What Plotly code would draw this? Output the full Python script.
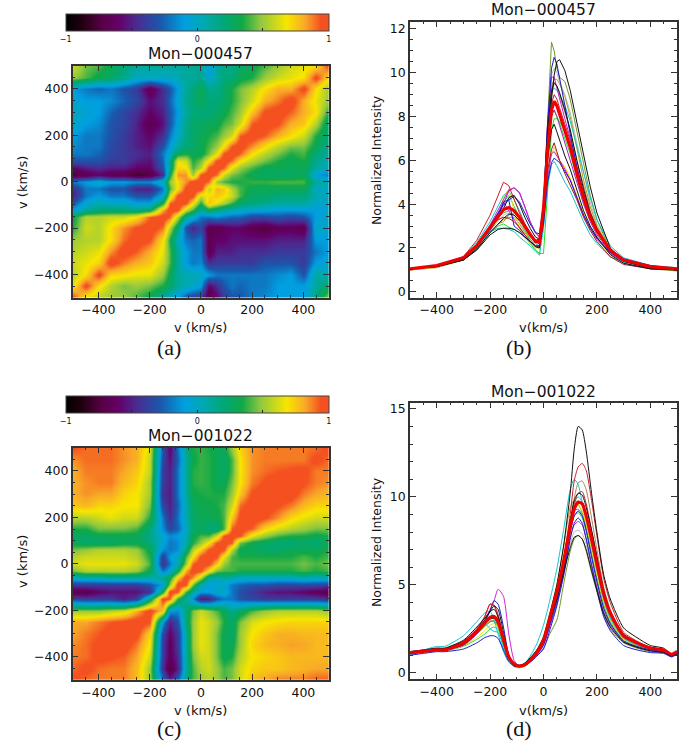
import plotly.graph_objects as go

# velocity grid of the correlation maps (km/s)
v_map = [-500, -450, -400, -350, -300, -250, -200, -150, -120, -90, -60, -30, 0,
         30, 60, 90, 120, 150, 200, 250, 300, 350, 400, 450, 500]

# correlation map Mon-000457, rows written top (v=500) to bottom (v=-500)
corr_a = [
    [.6, .45, .4, .3, .2, .1, .1, .1, .1, .1, .1, .15, .1, -.1, .1, .15, .15, .25, .3, .4, .5, .6, .65, .7, .98],
    [.5, .4, .3, .25, .15, 0, 0, 0, 0, .05, .1, .1, .15, -.05, .1, .2, .2, .3, .35, .5, .6, .65, .7, .98, .7],
    [-.1, -.2, -.25, -.2, -.3, -.4, -.7, -.45, -.3, -.1, .1, .2, .3, .15, .15, .25, .35, .45, .55, .7, .8, .8, .98, .7, .5],
    [-.05, -.1, -.1, -.15, -.25, -.35, -.55, -.45, -.25, -.05, .15, .2, .3, .2, .2, .25, .35, .45, .6, .8, .88, 1.0, .8, .65, .5],
    [0, -.05, -.1, -.25, -.35, -.45, -.6, -.5, -.3, -.1, .1, .2, .2, .2, .25, .3, .4, .5, .75, .95, 1.0, .92, .8, .7, .35],
    [0, -.1, -.15, -.3, -.35, -.5, -.7, -.55, -.3, -.05, .15, .25, .25, .3, .3, .4, .45, .6, .92, 1.0, .95, .8, .75, .55, .2],
    [-.1, -.2, -.2, -.3, -.4, -.5, -.6, -.45, -.2, 0, .15, .25, .3, .35, .4, .5, .6, .92, 1.0, .92, .8, .7, .6, .35, .2],
    [-.15, -.2, -.2, -.35, -.4, -.5, -.55, -.3, -.1, .1, .2, .25, .3, .4, .5, .7, .95, 1.0, .85, .7, .55, .45, .45, .3, .15],
    [-.2, -.2, -.25, -.35, -.4, -.45, -.5, -.2, 0, .3, .35, .3, .3, .45, .65, .95, 1.0, .92, .7, .55, .45, .35, .4, .2, .1],
    [-.3, -.3, -.3, -.4, -.4, -.5, -.55, -.25, .15, .65, .6, .35, .45, .7, .95, 1.0, .9, .7, .55, .45, .35, .3, .35, .15, .05],
    [-.6, -.5, -.45, -.5, -.5, -.6, -.6, -.3, .15, .72, .7, .4, .55, .95, 1.0, .92, .65, .5, .4, .3, .3, .3, .3, .1, 0],
    [-.75, -.7, -.6, -.7, -.7, -.8, -.75, -.45, .3, .85, .85, .5, .95, 1.0, .9, .6, .45, .4, .3, .25, .25, .25, .3, -.1, -.2],
    [-.2, -.1, 0, -.1, -.1, -.15, -.15, .05, .5, .7, .85, 1.0, 1.0, .9, .5, .4, .35, .35, .38, .38, .4, .4, .4, .1, .05],
    [-.45, -.2, -.2, -.3, -.3, -.5, -.5, -.2, .4, .7, .97, 1.0, 1.0, .55, .8, .75, .55, .4, .3, .3, .3, .3, .3, 0, 0],
    [-.5, -.2, -.1, -.2, -.2, -.3, -.3, -.05, .6, .97, 1.0, .97, .6, .7, .75, .7, .6, .4, .25, .25, .2, .2, .2, .05, 0],
    [-.3, -.05, .05, 0, 0, -.1, -.1, .3, .9, 1.0, .97, .7, .35, .78, .65, .55, .4, .25, .2, .15, .1, .1, .1, 0, -.05],
    [-.1, .1, .2, .2, .2, .15, .25, .8, 1.0, .97, .6, .4, .1, .3, .2, .1, .05, 0, -.05, -.05, -.1, -.1, -.1, -.1, -.05],
    [.3, .55, .55, .6, .6, .7, .92, 1.0, .92, .55, .15, 0, -.2, -.2, -.15, -.2, -.25, -.25, -.35, -.35, -.3, -.35, -.3, -.1, 0],
    [.35, .6, .55, .7, .85, .95, 1.0, .9, .55, .2, -.3, -.5, -.35, -.7, -.7, -.65, -.6, -.6, -.7, -.75, -.65, -.65, -.7, 0, -.05],
    [.5, .55, .55, .7, .9, 1.0, .95, .7, .35, 0, -.2, -.25, -.2, -.7, -.6, -.6, -.55, -.55, -.55, -.55, -.5, -.5, -.5, -.1, -.1],
    [.55, .6, .65, .85, 1.0, .92, .8, .65, .4, .1, -.1, -.2, -.2, -.7, -.5, -.5, -.5, -.45, -.45, -.45, -.4, -.4, -.4, -.2, -.1],
    [.6, .65, .72, 1.0, .88, .8, .75, .6, .4, .1, -.1, -.2, -.15, -.45, -.4, -.4, -.4, -.4, -.4, -.3, -.3, -.3, -.4, -.1, -.05],
    [.55, .7, .98, .72, .7, .65, .65, .5, .3, .1, .05, .05, 0, -.1, -.2, -.2, -.2, -.2, -.2, -.2, -.15, -.1, -.3, .1, 0],
    [.65, .98, .7, .55, .45, .5, .45, .35, .25, .1, .05, 0, -.1, -.6, -.45, -.3, -.2, -.25, -.2, -.2, -.1, -.1, -.1, .1, .25],
    [.98, .65, .55, .5, .5, .4, .3, .1, 0, -.1, -.3, -.4, -.4, -.75, -.6, -.4, -.3, -.3, -.2, -.15, -.1, -.1, -.1, .2, .5],
]

# correlation map Mon-001022, same order
corr_c = [
    [.95, .9, .9, .9, .85, .8, .62, -.3, -.6, -.2, .15, .35, .38, .35, .3, .3, .5, .72, .85, .88, .88, .88, .88, .9, .97],
    [.85, .9, .9, .9, .85, .8, .58, -.35, -.55, -.25, .1, .32, .38, .36, .3, .25, .4, .68, .85, .88, .88, .88, .88, .97, .9],
    [.8, .88, .88, .88, .82, .75, .58, -.4, -.5, -.2, .1, .36, .38, .36, .3, .25, .4, .68, .85, .9, .93, .95, .97, .88, .88],
    [.8, .85, .88, .88, .78, .72, .52, -.4, -.5, -.2, .1, .36, .38, .36, .3, .3, .45, .68, .88, .95, 1, 1, .95, .88, .85],
    [.8, .85, .82, .82, .72, .68, .52, -.45, -.5, -.2, .1, .32, .35, .36, .35, .35, .5, .75, .95, 1, 1, 1, .88, .82, .78],
    [.75, .78, .72, .72, .68, .68, .45, -.35, -.5, -.25, .05, .28, .32, .33, .35, .4, .6, .9, 1, 1, .95, .88, .78, .72, .72],
    [.55, .55, .6, .65, .6, .6, .35, -.2, -.45, -.2, .05, .25, .3, .3, .3, .4, .75, .97, 1, .95, .85, .72, .65, .6, .6],
    [.35, .35, .45, .45, .45, .4, .2, -.15, -.35, -.25, 0, .25, .25, .2, .2, .4, .92, 1, .92, .72, .62, .55, .5, .45, .45],
    [.25, .25, .3, .3, .3, .3, .15, -.05, -.15, -.1, .05, .3, .4, .4, .6, .95, 1, .95, .65, .5, .4, .35, .35, .3, .35],
    [.3, .25, .25, .25, .3, .3, .2, -.05, -.2, -.15, .05, .35, .5, .7, .95, 1, .92, .45, .3, .25, .2, .2, .25, .2, .3],
    [.45, .5, .55, .55, .55, .5, .3, -.15, -.2, -.15, .2, .55, .75, .95, 1, .95, .55, .3, .3, .25, .25, .3, .3, .3, .35],
    [.55, .6, .6, .6, .6, .55, .35, -.4, -.1, 0, .4, .7, .97, 1, .95, .65, .4, .35, .35, .35, .35, .35, .4, .35, .4],
    [.6, .65, .65, .65, .65, .6, .4, -.45, -.2, .05, .5, .92, 1, .97, .75, .5, .4, .4, .4, .4, .4, .4, .45, .4, .45],
    [.45, .55, .55, .55, .55, .5, .3, -.2, -.05, .3, .8, 1, .95, .7, .45, .4, .4, .35, .35, .35, .35, .35, .4, .35, .4],
    [0, .05, .05, .1, .1, .1, .05, .15, .3, .75, 1, .85, .55, .1, .05, .1, .05, 0, 0, 0, 0, 0, .05, 0, .05],
    [-.4, -.4, -.4, -.4, -.4, -.4, -.3, -.1, .5, 1, .97, .45, .05, -.1, -.05, -.05, -.2, -.25, -.3, -.3, -.35, -.35, -.35, -.35, -.4],
    [-.7, -.7, -.6, -.55, -.55, -.55, -.45, .3, 1, .95, .4, .1, -.1, -.1, 0, 0, -.2, -.3, -.4, -.5, -.55, -.55, -.6, -.65, -.7],
    [-.35, -.4, -.4, -.4, -.5, -.4, .2, 1, .92, .35, .1, -.15, -.55, -.5, -.3, -.2, -.2, -.3, -.35, -.4, -.4, -.4, -.4, -.4, -.45],
    [.5, .5, .5, .55, .6, .8, 1, .75, -.1, -.15, .2, .45, .6, .5, .4, .3, .15, .25, .4, .5, .55, .55, .55, .55, .5],
    [.82, .82, .88, .93, .97, 1, .95, -.1, -.5, -.3, .2, .5, .65, .6, .5, .35, .25, .45, .62, .68, .7, .72, .72, .72, .72],
    [.82, .88, .93, 1, 1, .97, .72, -.35, -.6, -.4, .1, .5, .65, .6, .45, .3, .25, .5, .68, .75, .8, .8, .78, .78, .78],
    [.86, .9, .97, 1, 1, .88, .67, -.4, -.65, -.4, .1, .5, .65, .6, .45, .3, .3, .5, .72, .78, .8, .83, .82, .78, .78],
    [.88, .9, .97, .95, .92, .82, .6, -.4, -.65, -.45, .1, .45, .6, .6, .45, .3, .35, .55, .68, .72, .75, .78, .78, .78, .78],
    [.9, .97, .9, .88, .88, .78, .5, -.45, -.75, -.5, .1, .4, .55, .6, .5, .4, .45, .6, .72, .75, .75, .78, .8, .82, .82],
    [.97, .9, .88, .88, .88, .78, .5, -.2, -.5, -.25, .15, .4, .5, .55, .5, .4, .45, .6, .78, .82, .88, .88, .88, .92, .92],
]

# spectra Mon-000457
v_b = [-500, -400, -300, -250, -200, -170, -150, -130, -110, -90, -70, -50, -30, -15, 0,
       15, 30, 40, 50, 60, 80, 100, 125, 150, 175, 200, 250, 300, 400, 500]
b_black1 = [1.05, 1.15, 1.45, 1.95, 2.7, 3.1, 3.35, 3.55, 3.5, 3.25, 2.95, 2.6, 2.35, 2.4, 3.6, 6.5, 8.8, 9.9, 10.5, 10.6, 10.1, 9.2, 7.7, 6.2, 4.8, 3.6, 2.0, 1.4, 1.1, 1.0]
b_olive = [1.0, 1.15, 1.5, 2.0, 2.9, 3.4, 3.6, 3.7, 3.7, 3.4, 3.0, 2.6, 2.3, 2.3, 4.0, 8.0, 11.4, 11.0, 10.2, 9.8, 9.6, 8.8, 7.3, 5.8, 4.4, 3.3, 1.9, 1.35, 1.05, .95]
b_blue1 = [1.05, 1.2, 1.55, 2.1, 3.0, 3.6, 3.95, 4.2, 4.35, 4.1, 3.6, 3.1, 2.7, 2.65, 4.0, 7.6, 10.2, 10.7, 10.4, 9.7, 8.5, 7.2, 5.7, 4.4, 3.5, 2.8, 1.95, 1.5, 1.2, 1.05]
b_gray = [1.05, 1.2, 1.5, 2.0, 2.8, 3.25, 3.5, 3.6, 3.5, 3.2, 2.8, 2.3, 1.9, 1.65, 3.4, 7.0, 9.9, 10.2, 10.0, 9.6, 9.0, 8.2, 6.8, 5.4, 4.1, 3.1, 1.9, 1.4, 1.1, 1.0]
b_black2 = [1.05, 1.15, 1.5, 2.05, 2.9, 3.4, 3.8, 4.3, 4.4, 4.0, 3.4, 2.9, 2.5, 2.4, 3.9, 7.3, 9.2, 9.55, 9.4, 9.1, 8.3, 7.4, 6.0, 4.7, 3.6, 2.9, 1.9, 1.4, 1.1, 1.0]
b_gold = [1.0, 1.1, 1.45, 1.95, 2.7, 3.1, 3.3, 3.4, 3.4, 3.1, 2.7, 2.4, 2.1, 2.1, 3.8, 7.4, 9.4, 9.7, 9.7, 9.5, 8.9, 8.0, 6.5, 5.1, 3.9, 3.0, 1.9, 1.4, 1.05, 1.0]
b_violet = [1.05, 1.2, 1.55, 2.1, 3.05, 3.7, 4.2, 4.65, 4.75, 4.55, 3.9, 3.2, 2.7, 2.5, 3.9, 7.6, 9.8, 9.8, 9.3, 8.8, 7.9, 7.0, 5.7, 4.5, 3.5, 2.8, 1.95, 1.5, 1.15, 1.05]
b_cyan1 = [1.05, 1.2, 1.6, 2.25, 3.2, 3.9, 4.4, 4.6, 4.2, 3.7, 3.1, 2.6, 2.2, 2.1, 3.8, 7.4, 9.1, 9.3, 9.2, 9.0, 8.5, 7.8, 6.6, 5.4, 4.3, 3.3, 2.1, 1.55, 1.2, 1.1]
b_lime1 = [1.05, 1.2, 1.55, 2.1, 3.0, 3.6, 4.1, 4.4, 3.9, 3.4, 2.8, 2.4, 2.1, 2.0, 3.5, 6.6, 8.2, 8.3, 8.0, 7.7, 7.0, 6.3, 5.2, 4.1, 3.3, 2.7, 1.85, 1.4, 1.1, 1.0]
b_lime2 = [1.05, 1.2, 1.5, 2.0, 2.7, 3.0, 3.1, 2.95, 2.85, 2.7, 2.5, 2.2, 1.9, 1.75, 1.75, 4.5, 7.4, 7.9, 7.9, 7.8, 7.3, 6.6, 5.4, 4.3, 3.4, 2.7, 1.85, 1.4, 1.1, 1.0]
b_black3 = [1.05, 1.15, 1.45, 1.9, 2.6, 2.85, 2.9, 2.9, 2.85, 2.7, 2.5, 2.3, 2.05, 2.0, 3.4, 6.0, 7.4, 7.65, 7.3, 6.9, 6.2, 5.6, 4.6, 3.7, 3.0, 2.5, 1.7, 1.3, 1.05, 1.0]
b_darkred = [1.05, 1.2, 1.55, 2.1, 2.95, 3.3, 3.4, 3.35, 3.2, 2.95, 2.6, 2.3, 2.1, 2.05, 3.3, 5.5, 6.5, 6.8, 6.4, 6.0, 5.4, 4.9, 4.2, 3.4, 2.8, 2.3, 1.6, 1.25, 1.05, 1.0]
b_yellow = [1.0, 1.15, 1.5, 2.05, 2.8, 3.3, 4.3, 4.7, 3.7, 2.9, 2.45, 2.2, 2.0, 2.0, 3.2, 5.3, 6.3, 6.6, 6.3, 6.0, 5.7, 5.2, 4.4, 3.6, 2.9, 2.4, 1.7, 1.35, 1.1, 1.0]
b_magenta = [1.05, 1.2, 1.55, 2.1, 3.0, 3.6, 4.1, 3.7, 3.3, 2.9, 2.6, 2.3, 2.1, 2.05, 3.2, 5.2, 6.3, 6.4, 6.2, 6.0, 5.6, 5.1, 4.3, 3.5, 2.9, 2.4, 1.75, 1.35, 1.1, 1.0]
b_blue2 = [1.05, 1.2, 1.55, 2.1, 2.8, 3.4, 4.1, 4.2, 3.0, 2.8, 2.5, 2.3, 2.1, 2.1, 3.1, 5.0, 5.9, 6.1, 6.0, 5.9, 5.5, 5.1, 4.3, 3.5, 2.9, 2.45, 1.8, 1.4, 1.1, 1.05]
b_cyan2 = [1.05, 1.2, 1.5, 2.0, 2.75, 2.9, 2.9, 2.85, 2.75, 2.5, 2.3, 2.1, 1.85, 1.7, 2.9, 4.8, 5.8, 5.95, 5.75, 5.5, 5.0, 4.6, 3.9, 3.2, 2.6, 2.2, 1.6, 1.35, 1.1, 1.05]
b_red = [1.05, 1.2, 1.6, 2.35, 3.5, 4.4, 5.0, 4.85, 4.2, 3.6, 3.1, 2.7, 2.35, 2.3, 3.6, 6.6, 8.6, 9.0, 8.8, 8.4, 7.6, 6.9, 5.6, 4.5, 3.5, 2.8, 1.85, 1.45, 1.15, 1.05]
b_brown = [1.05, 1.15, 1.5, 2.0, 2.7, 3.1, 3.2, 3.5, 3.6, 3.4, 3.0, 2.6, 2.3, 2.2, 3.6, 7.0, 9.0, 9.5, 9.4, 9.0, 8.3, 7.4, 6.0, 4.8, 3.7, 2.9, 1.85, 1.35, 1.05, 1.0]
b_purple = [1.05, 1.2, 1.55, 2.1, 3.0, 3.6, 4.0, 4.6, 4.75, 4.5, 3.9, 3.2, 2.7, 2.5, 3.5, 6.3, 8.0, 8.3, 8.0, 7.6, 6.8, 6.1, 5.0, 4.0, 3.2, 2.6, 1.8, 1.4, 1.1, 1.05]
b_mean = [1.05, 1.2, 1.55, 2.1, 2.95, 3.45, 3.75, 3.85, 3.7, 3.4, 3.0, 2.6, 2.3, 2.25, 3.8, 6.4, 8.3, 8.7, 8.5, 8.1, 7.3, 6.6, 5.4, 4.3, 3.4, 2.8, 1.9, 1.45, 1.15, 1.05]

# spectra Mon-001022
v_d = [-500, -450, -400, -370, -300, -250, -220, -200, -185, -170, -150, -130, -110, -90, -70, -50, -25, 0,
       25, 50, 75, 100, 115, 130, 145, 160, 180, 200, 225, 250, 300, 350, 400, 450, 480, 500]
d_black1 = [1.2, 1.3, 1.4, 1.4, 1.85, 2.6, 3.1, 3.5, 3.6, 3.2, 2.0, .95, .5, .42, .55, .85, 1.3, 2.0, 3.4, 5.0, 7.2, 10.2, 12.7, 14.0, 13.8, 12.6, 10.2, 8.0, 5.6, 4.2, 2.55, 2.0, 1.55, 1.4, 1.05, 1.25]
d_red1 = [1.15, 1.25, 1.35, 1.35, 1.8, 2.5, 3.2, 3.9, 3.8, 3.1, 1.9, .9, .5, .42, .52, .8, 1.2, 1.9, 3.2, 4.6, 6.4, 9.0, 10.9, 11.7, 11.9, 11.5, 9.8, 7.8, 5.4, 4.0, 2.3, 1.8, 1.45, 1.3, 1.0, 1.2]
d_brown = [1.1, 1.2, 1.3, 1.3, 1.6, 2.2, 2.7, 2.95, 2.95, 2.6, 1.7, .85, .45, .38, .45, .7, 1.1, 1.75, 3.0, 4.3, 5.8, 8.2, 9.9, 10.8, 10.9, 10.4, 8.8, 7.0, 4.9, 3.6, 2.1, 1.7, 1.4, 1.3, 1.0, 1.2]
d_cyan1 = [1.2, 1.3, 1.5, 1.5, 2.1, 2.9, 3.4, 3.5, 3.0, 2.2, 1.2, .6, .4, .38, .55, .95, 1.65, 2.7, 4.2, 5.9, 8.1, 10.4, 11.0, 10.7, 9.7, 8.8, 7.4, 5.9, 4.3, 3.2, 2.0, 1.6, 1.35, 1.25, 1.0, 1.15]
d_black2 = [1.15, 1.25, 1.35, 1.35, 1.75, 2.45, 3.0, 3.5, 3.8, 3.6, 2.3, 1.0, .5, .42, .5, .78, 1.2, 1.85, 3.15, 4.5, 6.2, 8.6, 9.8, 10.2, 10.1, 9.4, 8.1, 6.6, 4.7, 3.5, 2.2, 1.75, 1.45, 1.3, 1.05, 1.2]
d_gold = [1.15, 1.2, 1.3, 1.3, 1.6, 2.2, 2.65, 2.9, 2.9, 2.6, 1.8, .95, .5, .4, .5, .8, 1.3, 2.1, 3.5, 5.0, 7.1, 9.4, 9.8, 9.6, 9.1, 8.4, 7.1, 5.8, 4.2, 3.1, 1.95, 1.6, 1.35, 1.25, 1.0, 1.15]
d_blue1 = [1.1, 1.2, 1.3, 1.3, 1.65, 2.3, 2.9, 3.5, 4.1, 3.9, 2.6, 1.0, .45, .38, .45, .7, 1.05, 1.6, 2.8, 4.1, 5.8, 8.0, 8.9, 9.2, 8.9, 8.1, 6.6, 5.2, 3.7, 2.8, 1.8, 1.5, 1.3, 1.2, 1.0, 1.15]
d_green = [1.1, 1.2, 1.3, 1.3, 1.6, 2.2, 2.8, 3.1, 3.1, 2.7, 1.6, .75, .38, .32, .42, .7, 1.1, 1.75, 3.1, 4.4, 6.1, 8.3, 9.2, 9.3, 9.0, 8.2, 6.8, 5.4, 3.9, 2.9, 1.85, 1.55, 1.3, 1.2, 1.0, 1.15]
d_magenta = [1.1, 1.2, 1.3, 1.3, 1.55, 2.2, 2.9, 3.6, 4.1, 4.75, 4.35, 2.2, .7, .38, .42, .65, 1.0, 1.55, 2.7, 3.9, 5.6, 7.7, 8.4, 8.6, 8.4, 7.6, 6.2, 4.9, 3.5, 2.7, 1.75, 1.45, 1.25, 1.15, .95, 1.1]
d_gray = [1.1, 1.2, 1.3, 1.3, 1.6, 2.2, 2.6, 2.9, 2.9, 2.6, 1.6, .8, .4, .35, .42, .68, 1.05, 1.65, 2.9, 4.1, 5.5, 7.3, 8.0, 8.1, 7.9, 7.3, 6.0, 4.8, 3.4, 2.65, 1.75, 1.45, 1.25, 1.15, .95, 1.1]
d_olive = [1.1, 1.2, 1.3, 1.3, 1.6, 2.2, 2.65, 2.9, 2.95, 2.7, 1.8, .85, .4, .32, .4, .62, .95, 1.4, 2.25, 3.0, 5.0, 6.9, 7.6, 7.8, 7.6, 6.9, 5.7, 4.6, 3.3, 2.5, 1.7, 1.4, 1.2, 1.15, .95, 1.1]
d_black3 = [1.1, 1.2, 1.3, 1.3, 1.6, 2.25, 2.75, 3.05, 3.1, 2.8, 1.75, .85, .4, .35, .45, .72, 1.1, 1.8, 3.0, 4.2, 5.7, 7.1, 7.7, 7.8, 7.6, 7.0, 5.8, 4.7, 3.4, 2.6, 1.75, 1.45, 1.25, 1.15, .95, 1.1]
d_blue2 = [1.0, 1.1, 1.2, 1.2, 1.35, 1.7, 2.0, 2.1, 2.1, 1.95, 1.3, .65, .38, .35, .42, .6, .95, 1.35, 2.5, 3.8, 5.5, 7.6, 8.5, 8.8, 8.5, 7.6, 6.1, 4.7, 3.2, 2.4, 1.55, 1.3, 1.15, 1.1, .9, 1.05]
d_lime = [1.05, 1.15, 1.25, 1.25, 1.5, 1.9, 2.2, 2.5, 2.6, 2.45, 1.6, .75, .35, .28, .38, .62, 1.0, 1.6, 2.8, 4.0, 5.8, 8.0, 8.9, 9.1, 8.8, 8.0, 6.6, 5.2, 3.7, 2.8, 1.8, 1.5, 1.3, 1.2, 1.0, 1.15]
d_cyan2 = [1.2, 1.3, 1.4, 1.4, 1.8, 2.4, 2.8, 2.5, 2.35, 2.3, 1.4, .7, .4, .35, .42, .68, 1.1, 1.75, 3.05, 4.3, 6.0, 8.5, 9.6, 10.0, 9.7, 8.9, 7.4, 5.9, 4.2, 3.1, 1.95, 1.6, 1.35, 1.25, 1.0, 1.15]
d_yellow = [1.1, 1.2, 1.3, 1.3, 1.55, 2.0, 2.4, 2.7, 2.8, 2.65, 1.75, .8, .38, .32, .42, .7, 1.15, 1.85, 3.2, 4.5, 6.4, 8.7, 9.4, 9.5, 9.2, 8.4, 7.0, 5.6, 4.0, 3.0, 1.9, 1.55, 1.3, 1.2, 1.0, 1.15]
d_red2 = [1.15, 1.22, 1.3, 1.3, 1.7, 2.4, 3.2, 3.9, 3.85, 3.3, 2.0, .95, .48, .38, .5, .78, 1.2, 1.9, 3.2, 4.5, 6.1, 8.4, 9.6, 10.2, 10.3, 9.6, 8.1, 6.6, 4.6, 3.4, 2.1, 1.7, 1.4, 1.3, 1.0, 1.2]
d_mean = [1.15, 1.22, 1.3, 1.3, 1.7, 2.35, 2.85, 3.15, 3.2, 2.9, 1.9, .9, .5, .38, .45, .7, 1.15, 1.85, 3.2, 4.6, 6.3, 8.3, 9.3, 9.7, 9.6, 8.9, 7.6, 6.2, 4.5, 3.4, 2.1, 1.7, 1.4, 1.3, 1.05, 1.2]

BLACK, RED, LIME, BLUE, CYAN = '#111111', '#cc1f2a', '#22e022', '#1a1ad0', '#12c4c8'
MAGENTA, YELLOW, OLIVE, GRAY, BROWN, SEA = '#cc22cc', '#e8dc10', '#6f9a2a', '#bcbcbc', '#a5865c', '#2e9a68'

b_lines = [(b_gray, GRAY), (b_brown, BROWN), (b_gold, '#b0a020'), (b_olive, OLIVE), (b_cyan1, CYAN),
           (b_lime1, LIME), (b_lime2, LIME), (b_yellow, YELLOW), (b_magenta, MAGENTA), (b_purple, '#a020c0'),
           (b_violet, MAGENTA), (b_cyan2, CYAN), (b_blue2, BLUE), (b_darkred, '#a01525'), (b_red, RED),
           (b_blue1, BLUE), (b_black2, BLACK), (b_black3, BLACK), (b_black1, BLACK)]
d_lines = [(d_gray, GRAY), (d_brown, BROWN), (d_gold, '#b0a020'), (d_olive, OLIVE), (d_green, SEA), (d_lime, LIME),
           (d_yellow, YELLOW), (d_cyan1, CYAN), (d_cyan2, CYAN), (d_magenta, MAGENTA), (d_blue1, BLUE),
           (d_blue2, BLUE), (d_red2, RED), (d_red1, RED), (d_black3, BLACK), (d_black2, BLACK), (d_black1, BLACK)]

rainbow = [[0, '#000000'], [.06, '#200010'], [.14, '#5a0048'], [.2, '#640068'], [.27, '#4a2c92'],
           [.36, '#1a58ac'], [.45, '#00a0e0'], [.52, '#00a8b4'], [.6, '#00a878'], [.67, '#10a848'],
           [.74, '#90c840'], [.84, '#f8e600'], [.91, '#f8a828'], [.97, '#f45020'], [1, '#f45020']]

W, H = 692, 742


def px_x(x):
    return x / W


def px_y(y):
    return 1 - y / H


def add_map(fig, z, xname, yname, cbar):
    fig.add_trace(go.Heatmap(
        x=v_map, y=v_map, z=z[::-1], zmin=-1, zmax=1, zsmooth='best', colorscale=rainbow,
        xaxis=xname, yaxis=yname, showscale=True,
        colorbar=dict(orientation='h', x=px_x(cbar[0]), xanchor='left', y=px_y(cbar[2]), yanchor='top',
                      len=(cbar[1] - cbar[0]) / W, lenmode='fraction', thickness=cbar[3] - cbar[2], xpad=0, ypad=0,
                      outlinewidth=1, outlinecolor='#444', tickvals=[-1, -.5, 0, .5, 1], ticktext=['\u22121', '', '0', '', '1'],
                      ticks='inside', ticklen=3, tickcolor='#222', tickfont=dict(size=8, family='DejaVu Sans', color='#111'))))


def style_axes(fig, xkey, ykey, box, yrange, ydtick, yminor):
    x0, x1, y0, y1 = box
    common = dict(showgrid=False, zeroline=False, showline=True, linecolor='#333', linewidth=1.5, mirror='ticks',
                  ticks='inside', ticklen=6, tickcolor='#333', tickfont=dict(size=12.5, family='DejaVu Sans', color='#111'))
    xanchor = ykey.replace('axis', '')
    yanchor = xkey.replace('axis', '')
    fig.update_layout({
        xkey: dict(common, domain=[px_x(x0), px_x(x1)], range=[-500, 500], tick0=0, dtick=200, anchor=xanchor,
                   minor=dict(dtick=50, ticks='inside', ticklen=3, tickcolor='#333', showgrid=False)),
        ykey: dict(common, domain=[px_y(y1), px_y(y0)], range=yrange, tick0=0, dtick=ydtick, anchor=yanchor,
                   minor=dict(dtick=yminor, ticks='inside', ticklen=3, tickcolor='#333', showgrid=False)),
    })


box_a = (72.7, 329, 65.7, 297.7)
box_b = (410, 677, 21.7, 297.7)
box_c = (72.7, 329, 447.7, 680)
box_d = (410, 677, 402.7, 679.3)

fig = go.Figure()
add_map(fig, corr_a, 'x', 'y', (65.7, 329, 14.3, 31.7))
add_map(fig, corr_c, 'x3', 'y3', (65.7, 329, 396, 413.3))

for vals, col in b_lines:
    fig.add_trace(go.Scatter(x=v_b, y=vals, mode='lines', line=dict(color=col, width=1), xaxis='x2', yaxis='y2', showlegend=False))
fig.add_trace(go.Scatter(x=v_b, y=b_mean, mode='lines', line=dict(color='#f00000', width=3.2), xaxis='x2', yaxis='y2', showlegend=False))

for vals, col in d_lines:
    fig.add_trace(go.Scatter(x=v_d, y=vals, mode='lines', line=dict(color=col, width=1, shape='spline', smoothing=0.6), xaxis='x4', yaxis='y4', showlegend=False))
fig.add_trace(go.Scatter(x=v_d, y=d_mean, mode='lines', line=dict(color='#f00000', width=3.2, shape='spline', smoothing=0.6), xaxis='x4', yaxis='y4', showlegend=False))

style_axes(fig, 'xaxis', 'yaxis', box_a, [-500, 500], 200, 50)
style_axes(fig, 'xaxis2', 'yaxis2', box_b, [-0.27, 12.33], 2, 0.5)
style_axes(fig, 'xaxis3', 'yaxis3', box_c, [-500, 500], 200, 50)
style_axes(fig, 'xaxis4', 'yaxis4', box_d, [-0.37, 15.35], 5, 1)

# titles, axis labels and panel letters
SANS = 'DejaVu Sans'
SERIF = 'Liberation Serif'
texts = [
    ('Mon\u2212000457', 200, 54, 15.5, SANS, 0), ('v (km/s)', 200, 328, 13, SANS, 0), ('v (km/s)', 22, 183, 13, SANS, -90),
    ('(a)', 169, 347, 22, SERIF, 0),
    ('Mon\u2212000457', 543, 10, 15.5, SANS, 0), ('v(km/s)', 543, 328, 13, SANS, 0), ('Normalized Intensity', 376, 160, 12.5, SANS, -90),
    ('(b)', 519, 347, 22, SERIF, 0),
    ('Mon\u2212001022', 200, 436, 15.5, SANS, 0), ('v (km/s)', 200, 710, 13, SANS, 0), ('v (km/s)', 22, 562, 13, SANS, -90),
    ('(c)', 169, 728, 22, SERIF, 0),
    ('Mon\u2212001022', 543, 392, 15.5, SANS, 0), ('v(km/s)', 543, 710, 13, SANS, 0), ('Normalized Intensity', 376, 542, 12.5, SANS, -90),
    ('(d)', 519, 728, 22, SERIF, 0),
]
for txt, x, y, size, fam, ang in texts:
    fig.add_annotation(text=txt, x=px_x(x), y=px_y(y), xref='paper', yref='paper', showarrow=False,
                       xanchor='center', yanchor='middle', textangle=ang, font=dict(size=size, family=fam, color='#111'))

fig.update_layout(width=W, height=H, margin=dict(l=0, r=0, t=0, b=0, autoexpand=False), paper_bgcolor='white',
                  plot_bgcolor='white', showlegend=False)

# the page's default body margin would shift the figure by 8 px
fig.write_html("out.html", config={'displayModeBar': False}, post_script="document.body.style.margin='0';")
